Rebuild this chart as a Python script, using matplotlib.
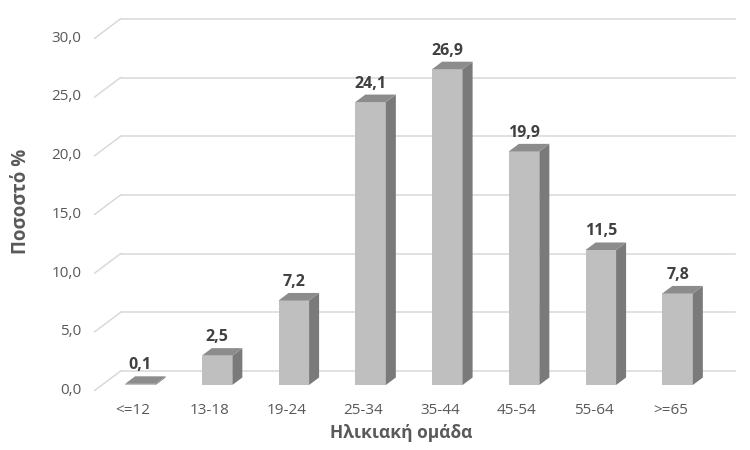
import matplotlib.pyplot as plt
from matplotlib.patches import Polygon
import numpy as np

# %% Data
categories = ['<=12', '13-18', '19-24', '25-34', '35-44', '45-54', '55-64', '>=65']
values = [0.1, 2.5, 7.2, 24.1, 26.9, 19.9, 11.5, 7.8]
y_ticks = [0, 5, 10, 15, 20, 25, 30]
x_title = 'Ηλικιακή ομάδα'
y_title = 'Ποσοστό %'

# %% Look
plt.rcParams['font.family'] = ['Open Sans', 'DejaVu Sans']
FRONT = '#bfbfbf'
SIDE = '#7a7a7a'
TOP = '#8c8c8c'
GRID = '#d9d9d9'
TXT = '#595959'
LBL = '#404040'

# pixel scale of the back wall (px per category / px per unit)
PX_X = 76.75
PX_Y = 11.74
# oblique depth offset, per unit depth (front axis = depth 1)
DX = -26 / PX_X
DY = -19.5 / PX_Y
D_FRONT = 0.718   # bar front face
D_BACK = 0.333    # bar back face
HALF_W = 15.25 / PX_X


def proj(x, v, d):
    return x + d * DX, v + d * DY


fig = plt.figure(figsize=(7.5, 4.5), dpi=100)
ax = fig.add_axes([0, 0, 1, 1])
ax.set_xlim(-159 / PX_X, (750 - 159) / PX_X)
ax.set_ylim((371 - 450) / PX_Y, 371 / PX_Y)
ax.axis('off')

# %% Gridlines (back wall + left diagonal)
x0, x1 = -0.5, len(categories) - 0.5
for t in y_ticks:
    ax.plot([x0, x1], [t, t], color=GRID, lw=1.1, zorder=1)
    fx, fy = proj(x0, t, 1)
    ax.plot([fx, x0], [fy, t], color=GRID, lw=1.1, zorder=1)
    ax.text(fx - 13 / PX_X, fy, f'{t:.1f}'.replace('.', ','), ha='right', va='center',
            fontsize=11, color=TXT)

# %% Bars
for i, val in enumerate(values):
    l, r = i - HALF_W, i + HALF_W
    front = [proj(l, 0, D_FRONT), proj(r, 0, D_FRONT), proj(r, val, D_FRONT), proj(l, val, D_FRONT)]
    side = [proj(r, 0, D_FRONT), proj(r, 0, D_BACK), proj(r, val, D_BACK), proj(r, val, D_FRONT)]
    top = [proj(l, val, D_FRONT), proj(r, val, D_FRONT), proj(r, val, D_BACK), proj(l, val, D_BACK)]
    ax.add_patch(Polygon(front, closed=True, fc=FRONT, ec='none', zorder=2))
    ax.add_patch(Polygon(side, closed=True, fc=SIDE, ec='none', zorder=2))
    ax.add_patch(Polygon(top, closed=True, fc=TOP, ec='none', zorder=2))

    lx, _ = proj(i, val, D_FRONT)
    _, ly = proj(i, val, D_BACK)
    ax.text(lx, ly + 11 / PX_Y, f'{val:.1f}'.replace('.', ','), ha='center', va='center',
            fontsize=11.5, fontweight='bold', color=LBL, zorder=3)

    cx, cy = proj(i, 0, 1)
    ax.text(cx, cy - 20 / PX_Y, categories[i], ha='center', va='center', fontsize=11, color=TXT)

# %% Axis titles
tx, ty = proj((len(categories) - 1) / 2, 0, 1)
ax.text(tx, ty - 43 / PX_Y, x_title, ha='center', va='center', fontsize=12.5,
        fontweight='bold', color=TXT)
ax.text(-138 / PX_X, (371 - 201) / PX_Y, y_title, ha='center', va='center', rotation=90,
        fontsize=13.5, fontweight='bold', color=TXT)

fig.savefig('out.png', dpi=100)
